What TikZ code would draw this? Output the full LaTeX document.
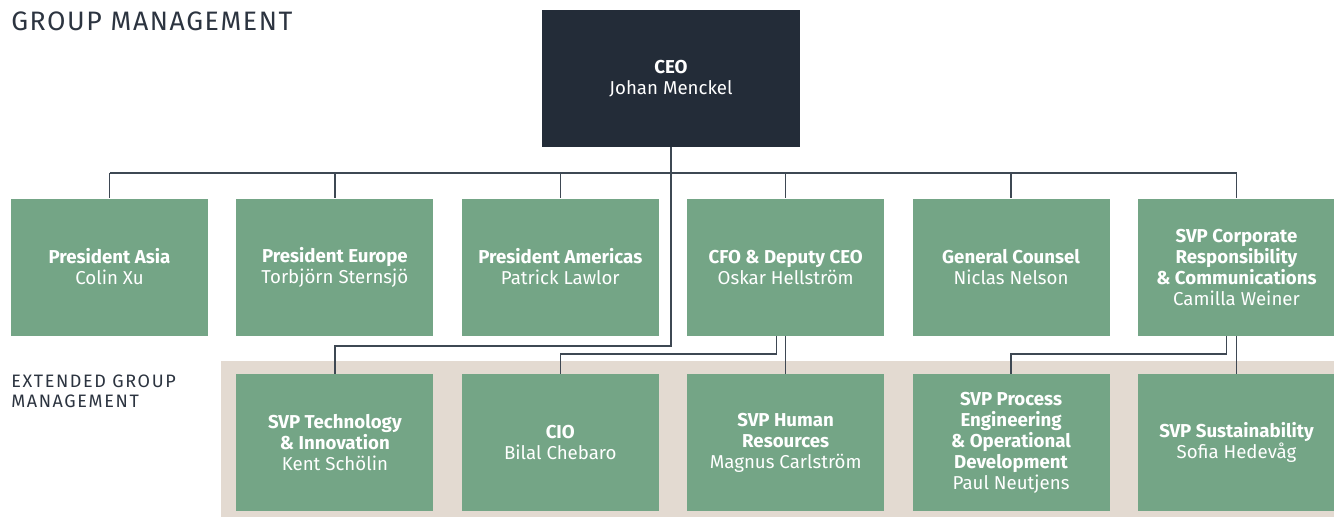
\documentclass[tikz,border=0pt]{standalone}
\usepackage{fontspec}
\setmainfont{Fira Sans}
\usetikzlibrary{positioning}
\usetikzlibrary{calc}
\definecolor{ceoblue}{HTML}{232C38}
\definecolor{rolegreen}{HTML}{74A586}
\definecolor{extbeige}{HTML}{E3DAD1}
\definecolor{linegray}{HTML}{3E4853}
\definecolor{headgray}{HTML}{2C3440}
\tikzset{%
  link/.style = {draw=linegray,line width=1.1pt},
  r/.style = {rectangle,fill=rolegreen,text=white,align=center,
        minimum width=147.75pt,minimum height=102.75pt,inner sep=0pt,
        font=\fontsize{14}{15.75}\selectfont},
  ceobox/.style = {r,fill=ceoblue,minimum width=193.5pt},
  head/.style = {text=headgray,inner sep=0pt}
}

\begin{document}
\begin{tikzpicture}[x=0.75pt,y=-0.75pt,node distance=28.5pt and 20.9pt]
    \useasboundingbox (0,0) rectangle (1334,517);
    \fill[extbeige] (221,361) rectangle (1334,517);

    \node[head,anchor=base west,font=\fontsize{20}{24}\selectfont\addfontfeatures{LetterSpace=6}] (title) at (11,31) {GROUP MANAGEMENT};
    \node[head,anchor=north west,align=left,
        font=\fontsize{13.5}{15}\selectfont\addfontfeatures{LetterSpace=9}] (extlabel) at (11,375) {EXTENDED GROUP\\MANAGEMENT};

    \node[ceobox] (ceo) at (671,78.5) {\textbf{CEO}\\Johan Menckel};

    % group management
    \node[r] (asia) at (109.5,267) {\textbf{President Asia}\\Colin Xu};
    \node[r,right=of asia] (europe) {\textbf{President Europe}\\Torbjörn Sternsjö};
    \node[r,right=of europe] (americas) {\textbf{President Americas}\\Patrick Lawlor};
    \node[r,right=of americas] (cfo) {\textbf{CFO \& Deputy CEO}\\Oskar Hellström};
    \node[r,right=of cfo] (counsel) {\textbf{General Counsel}\\Niclas Nelson};
    \node[r,right=of counsel] (comms) {\textbf{SVP Corporate}\\\textbf{Responsibility}\\\textbf{\& Communications}\\Camilla Weiner};

    % extended group management
    \node[r,below=of europe] (tech) {\textbf{SVP Technology}\\\textbf{\& Innovation}\\Kent Schölin};
    \node[r,below=of americas] (cio) {\textbf{CIO}\\Bilal Chebaro};
    \node[r,below=of cfo] (hr) {\textbf{SVP Human}\\\textbf{Resources}\\Magnus Carlström};
    \node[r,below=of counsel] (process) {\textbf{SVP Process}\\\textbf{Engineering}\\\textbf{\& Operational}\\\textbf{Development}\\Paul Neutjens};
    \node[r,below=of comms] (sust) {\textbf{SVP Sustainability}\\Sofia Hedevåg};

    % reporting lines
    \coordinate (bus) at (0,173);
    \draw[link] (asia.north |- bus) -- (comms.north |- bus);
    \foreach \n in {asia,europe,americas,cfo,counsel,comms}
        \draw[link] (\n.north |- bus) -- (\n.north);
    \draw[link] (ceo.south) |- ($(tech.north)+(0,-28)$) -- (tech.north);
    \draw[link] ([xshift=-7pt]cfo.south) |- ($(cio.north)+(0,-20)$) -- (cio.north);
    \draw[link] (cfo) -- (hr);
    \draw[link] ([xshift=-7.5pt]comms.south) |- ($(process.north)+(0,-20)$) -- (process.north);
    \draw[link] (comms) -- (sust);
\end{tikzpicture}
\end{document}
